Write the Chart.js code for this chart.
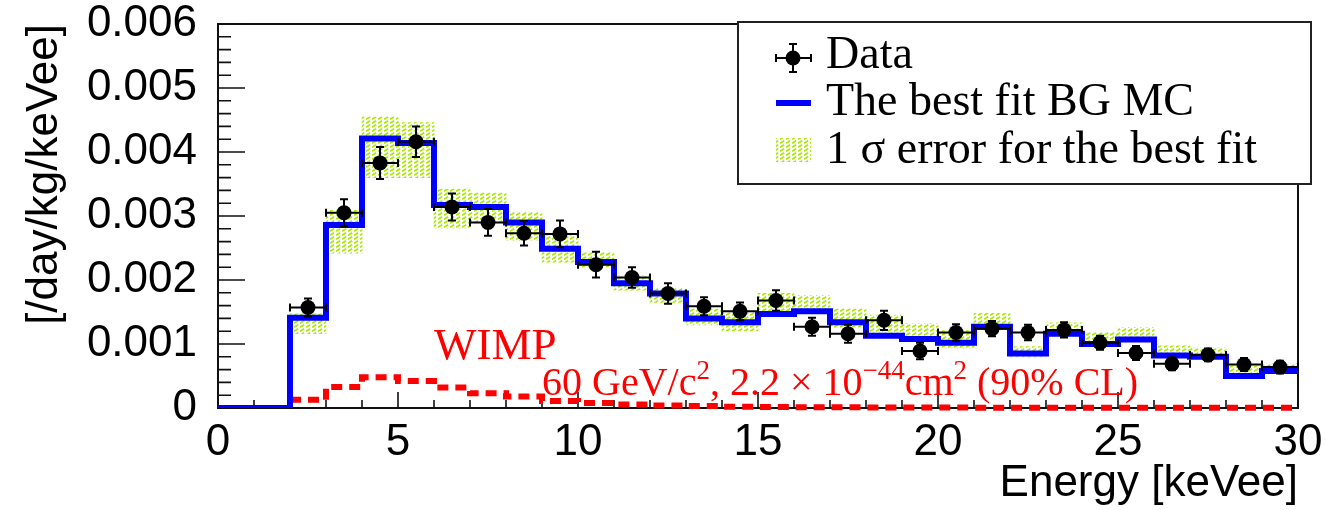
<!DOCTYPE html>
<html>
<head>
<meta charset="utf-8">
<title>Energy spectrum</title>
<script src="https://cdn.jsdelivr.net/npm/chart.js@4.4.1/dist/chart.umd.min.js"></script>
<style>
  html, body { margin: 0; padding: 0; background: #fff; }
</style>
</head>
<body>
<canvas id="spectrum" width="1326" height="510"></canvas>
<script>
// Measured spectrum (1 keVee bins, centre of bin)
const energy = [2.5, 3.5, 4.5, 5.5, 6.5, 7.5, 8.5, 9.5, 10.5, 11.5, 12.5, 13.5, 14.5, 15.5,
  16.5, 17.5, 18.5, 19.5, 20.5, 21.5, 22.5, 23.5, 24.5, 25.5, 26.5, 27.5, 28.5, 29.5];
const rate = [0.00157, 0.00305, 0.00383, 0.00416, 0.00314, 0.00290, 0.00273, 0.00272, 0.00224,
  0.00204, 0.00179, 0.00159, 0.00151, 0.00168, 0.00127, 0.00116, 0.00137, 0.00089, 0.00118,
  0.00124, 0.00118, 0.00122, 0.00102, 0.00086, 0.00069, 0.00083, 0.00068, 0.00064];
const rateErr = [0.00014, 0.00021, 0.00025, 0.00024, 0.00021, 0.00021, 0.00019, 0.00021, 0.00020,
  0.00016, 0.00016, 0.00014, 0.00014, 0.00016, 0.00014, 0.00014, 0.00015, 0.00013, 0.00013,
  0.00012, 0.00012, 0.00012, 0.00011, 0.00011, 0.00010, 0.00010, 0.00010, 0.00010];

// 1 sigma band of the fit, same bins as the data
const bandLow = [0.00116, 0.00242, 0.00360, 0.00360, 0.00281, 0.00289, 0.00262, 0.00228, 0.00220,
  0.00184, 0.00165, 0.00130, 0.00121, 0.00149, 0.00148, 0.00126, 0.00118, 0.00113, 0.00094,
  0.00126, 0.00080, 0.00113, 0.00097, 0.00108, 0.00079, 0.00082, 0.00053, 0.00055];
const bandHigh = [0.00147, 0.00309, 0.00455, 0.00446, 0.00342, 0.00336, 0.00306, 0.00270, 0.00243,
  0.00207, 0.00187, 0.00155, 0.00149, 0.00179, 0.00176, 0.00155, 0.00145, 0.00132, 0.00121,
  0.00148, 0.00096, 0.00133, 0.00118, 0.00126, 0.00097, 0.00094, 0.00066, 0.00069];

// MC histograms over the full range 0-30 keVee
const mcBins = [0.5, 1.5, 2.5, 3.5, 4.5, 5.5, 6.5, 7.5, 8.5, 9.5, 10.5, 11.5, 12.5, 13.5, 14.5,
  15.5, 16.5, 17.5, 18.5, 19.5, 20.5, 21.5, 22.5, 23.5, 24.5, 25.5, 26.5, 27.5, 28.5, 29.5];
const bgFit = [0, 0, 0.00141, 0.00286, 0.00421, 0.00414, 0.00317, 0.00314, 0.00290, 0.00249,
  0.00228, 0.00195, 0.00179, 0.00140, 0.00134, 0.00147, 0.00151, 0.00134, 0.00113, 0.00108,
  0.00102, 0.00127, 0.00085, 0.00116, 0.00100, 0.00107, 0.00082, 0.00080, 0.00050, 0.00058];
const wimp = [null, null, 0.00013, 0.00033, 0.00048, 0.00042, 0.00032, 0.00023, 0.00018, 0.00011,
  0.00008, 0.000055, 0.00004, 0.00003, 0.00002, 0.000015, 0.000012, 0.00001, 0.000008, 0.000007,
  0.000006, 0.000005, 0.000004, 0.000004, 0.000003, 0.000003, 0.000002, 0.000002, 0.000002, 0.000002];

const xTicks = [0, 5, 10, 15, 20, 25, 30];
const yTicks = [0, 0.001, 0.002, 0.003, 0.004, 0.005, 0.006];

const binHalf = 0.5;
const sans = "'Liberation Sans', Arial, Helvetica, sans-serif";
const serif = "'Liberation Serif', 'Times New Roman', serif";

// histogram -> step line points (lower bin edges plus the last upper edge)
function toSteps(centres, values) {
  const pts = [];
  centres.forEach((c, i) => {
    if (values[i] !== null) pts.push({ x: c - binHalf, y: values[i] });
  });
  const last = centres.length - 1;
  pts.push({ x: centres[last] + binHalf, y: values[last] });
  return pts;
}

// yellow-green hatch used for the error band
function makeHatch() {
  const c = document.createElement("canvas");
  c.width = 6;
  c.height = 4;
  const g = c.getContext("2d");
  g.strokeStyle = "#a8ea00";
  g.lineWidth = 1.8;
  g.beginPath();
  g.moveTo(0, 3.2);
  g.lineTo(4.2, 0.8);
  g.stroke();
  return g.createPattern(c, "repeat");
}
const hatch = makeHatch();

// frame with inward ticks
const frame = {
  id: "frame",
  beforeDatasetsDraw(chart) {
    const { ctx, chartArea: a, scales: { x, y } } = chart;
    ctx.save();
    ctx.strokeStyle = "#111";
    ctx.lineWidth = 2;
    ctx.strokeRect(a.left, a.top, a.right - a.left, a.bottom - a.top);
    ctx.lineWidth = 1.6;
    ctx.beginPath();
    for (let v = 0; v <= 30; v++) {
      const px = x.getPixelForValue(v);
      const len = v % 5 === 0 ? 16 : 8;
      ctx.moveTo(px, a.bottom);
      ctx.lineTo(px, a.bottom - len);
    }
    for (let i = 0; i <= 30; i++) {
      const py = y.getPixelForValue(i * 0.0002);
      const len = i % 5 === 0 ? 27 : 13;
      ctx.moveTo(a.left, py);
      ctx.lineTo(a.left + len, py);
    }
    ctx.stroke();
    ctx.restore();
  }
};

// data error bars (x: bin width, y: statistical)
const errorBars = {
  id: "errorBars",
  afterDatasetsDraw(chart) {
    const { ctx, scales: { x, y } } = chart;
    const cap = 4;
    ctx.save();
    ctx.strokeStyle = "#000";
    ctx.lineWidth = 2;
    energy.forEach((e, i) => {
      const cx = x.getPixelForValue(e);
      const cy = y.getPixelForValue(rate[i]);
      const x0 = x.getPixelForValue(e - binHalf);
      const x1 = x.getPixelForValue(e + binHalf);
      const y0 = y.getPixelForValue(rate[i] - rateErr[i]);
      const y1 = y.getPixelForValue(rate[i] + rateErr[i]);
      ctx.beginPath();
      ctx.moveTo(x0, cy); ctx.lineTo(x1, cy);
      ctx.moveTo(x0, cy - cap); ctx.lineTo(x0, cy + cap);
      ctx.moveTo(x1, cy - cap); ctx.lineTo(x1, cy + cap);
      ctx.moveTo(cx, y0); ctx.lineTo(cx, y1);
      ctx.moveTo(cx - cap, y0); ctx.lineTo(cx + cap, y0);
      ctx.moveTo(cx - cap, y1); ctx.lineTo(cx + cap, y1);
      ctx.stroke();
    });
    ctx.restore();
  }
};

// text with superscripts: parts = [[text, isSup], ...]
function richText(ctx, parts, px, py, size) {
  let cx = px;
  parts.forEach(([t, sup]) => {
    ctx.font = (sup ? Math.round(size * 0.68) : size) + "px " + serif;
    ctx.fillText(t, cx, sup ? py - size * 0.4 : py);
    cx += ctx.measureText(t).width;
  });
}

// legend box and WIMP annotation
const overlay = {
  id: "overlay",
  afterDraw(chart) {
    const { ctx, scales: { x, y } } = chart;
    ctx.save();

    ctx.fillStyle = "#ff0000";
    ctx.textBaseline = "alphabetic";
    ctx.font = "45px " + serif;
    ctx.fillText("WIMP", x.getPixelForValue(6), y.getPixelForValue(0.00076));
    richText(ctx, [["60 GeV/c", false], ["2", true], [", 2.2 \u00d7 10", false], ["\u221244", true],
      ["cm", false], ["2", true], [" (90% CL)", false]],
      x.getPixelForValue(9), y.getPixelForValue(0.0002), 40);

    const L = 738, T = 22, R = 1311, B = 184;
    ctx.fillStyle = "#fff";
    ctx.fillRect(L, T, R - L, B - T);
    ctx.strokeStyle = "#222";
    ctx.lineWidth = 2;
    ctx.strokeRect(L, T, R - L, B - T);

    const sx0 = 776, sx1 = 811, sxc = 793;
    const rows = [58, 103, 150];

    // data marker
    ctx.strokeStyle = "#000";
    ctx.lineWidth = 2;
    ctx.beginPath();
    ctx.moveTo(sx0, rows[0]); ctx.lineTo(sx1, rows[0]);
    ctx.moveTo(sx0, rows[0] - 4); ctx.lineTo(sx0, rows[0] + 4);
    ctx.moveTo(sx1, rows[0] - 4); ctx.lineTo(sx1, rows[0] + 4);
    ctx.moveTo(sxc, rows[0] - 14); ctx.lineTo(sxc, rows[0] + 14);
    ctx.moveTo(sxc - 4, rows[0] - 14); ctx.lineTo(sxc + 4, rows[0] - 14);
    ctx.moveTo(sxc - 4, rows[0] + 14); ctx.lineTo(sxc + 4, rows[0] + 14);
    ctx.stroke();
    ctx.fillStyle = "#000";
    ctx.beginPath();
    ctx.arc(sxc, rows[0], 7.5, 0, Math.PI * 2);
    ctx.fill();

    // fit line
    ctx.strokeStyle = "#0000ff";
    ctx.lineWidth = 6;
    ctx.beginPath();
    ctx.moveTo(sx0, rows[1]); ctx.lineTo(sx1, rows[1]);
    ctx.stroke();

    // band swatch
    ctx.fillStyle = hatch;
    ctx.fillRect(sx0, rows[2] - 12, sx1 - sx0, 24);

    ctx.fillStyle = "#000";
    ctx.font = "46px " + serif;
    ctx.fillText("Data", 826, rows[0] + 10);
    ctx.fillText("The best fit BG MC", 826, rows[1] + 12);
    ctx.fillText("1 \u03c3 error for the best fit", 826, rows[2] + 13);
    ctx.restore();
  }
};

new Chart(document.getElementById("spectrum"), {
  type: "scatter",
  data: {
    datasets: [
      {
        type: "scatter",
        label: "Data",
        data: energy.map((e, i) => ({ x: e, y: rate[i] })),
        pointRadius: 7.5,
        pointBackgroundColor: "#000",
        pointBorderWidth: 0,
        order: 0
      },
      {
        type: "line",
        label: "The best fit BG MC",
        data: toSteps(mcBins, bgFit),
        stepped: "before",
        borderColor: "#0000ff",
        borderWidth: 6,
        borderJoinStyle: "miter",
        pointRadius: 0,
        fill: false,
        order: 1
      },
      {
        type: "line",
        label: "WIMP",
        data: toSteps(mcBins, wimp),
        stepped: "before",
        borderColor: "#ff0000",
        borderWidth: 6,
        borderDash: [11, 7],
        pointRadius: 0,
        fill: false,
        clip: 6,
        order: 2
      },
      {
        type: "bar",
        label: "1 sigma error for the best fit",
        data: energy.map((e, i) => ({ x: e, y: [bandLow[i], bandHigh[i]] })),
        backgroundColor: hatch,
        borderWidth: 0,
        barPercentage: 1,
        categoryPercentage: 1,
        grouped: false,
        order: 3
      }
    ]
  },
  options: {
    responsive: false,
    animation: false,
    events: [],
    layout: { padding: { top: 24, right: 28, left: 0, bottom: 0 } },
    plugins: {
      legend: { display: false },
      tooltip: { enabled: false }
    },
    scales: {
      x: {
        type: "linear",
        min: 0,
        max: 30,
        offset: false,
        grid: { display: false },
        border: { display: false },
        afterBuildTicks: (s) => { s.ticks = xTicks.map((v) => ({ value: v })); },
        afterFit: (s) => {
          s.height = 102;
          s.paddingLeft = 0;
          s.paddingRight = 0;
        },
        ticks: {
          color: "#000",
          padding: 0,
          maxRotation: 0,
          font: { family: sans, size: 44 }
        },
        title: {
          display: true,
          text: "Energy [keVee]",
          align: "end",
          color: "#000",
          padding: 0,
          font: { family: sans, size: 44 }
        }
      },
      y: {
        type: "linear",
        min: 0,
        max: 0.006,
        grid: { display: false },
        border: { display: false },
        afterBuildTicks: (s) => { s.ticks = yTicks.map((v) => ({ value: v })); },
        afterFit: (s) => {
          s.width = 218;
          s.paddingTop = 0;
          s.paddingBottom = 0;
        },
        ticks: {
          color: "#000",
          padding: 13,
          callback: (v) => (v === 0 ? "0" : v.toFixed(3)),
          font: { family: sans, size: 44 }
        },
        title: {
          display: true,
          text: "[/day/kg/keVee]",
          align: "end",
          color: "#000",
          padding: { top: 18 },
          font: { family: sans, size: 44 }
        }
      }
    }
  },
  plugins: [frame, errorBars, overlay]
});
</script>
</body>
</html>
